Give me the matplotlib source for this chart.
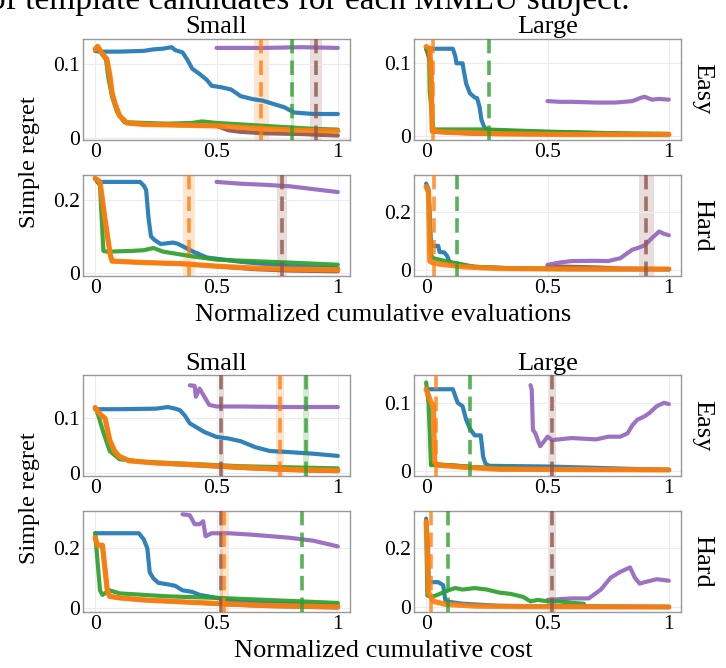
import matplotlib
matplotlib.use('Agg')
import matplotlib.pyplot as plt

plt.rcParams['font.family'] = ['Liberation Serif', 'DejaVu Serif']

# colours of the five methods
COLORS = {'blue': '#1f77b4', 'orange': '#ff7f0e', 'green': '#2ca02c',
          'brown': '#8c564b', 'purple': '#9467bd'}

# ---- evaluations, small, easy
ev_se_blue = [(0, .117), (0.02, .116), (0.1, .116), (0.2, .117), (0.24, .119), (0.28, .12), (0.315, .122),
              (0.33, .118), (0.36, .115), (0.38, .105), (0.4, .093), (0.43, .086), (0.46, .078), (0.48, .07),
              (0.52, .068), (0.56, .065), (0.6, .056), (0.65, .052), (0.69, .05), (0.73, .046), (0.78, .041),
              (0.82, .034), (0.9, .032), (1.0, .032)]
ev_se_orange = [(0, .119), (0.01, .123), (0.03, .113), (0.048, .106), (0.06, .085), (0.07, .06), (0.082, .046),
                (0.1, .03), (0.13, .02), (0.2, .018), (0.35, .017), (0.5, .016), (0.6, .014), (0.7, .012),
                (0.85, .01), (1.0, .009)]
ev_se_green = [(0, .119), (0.01, .122), (0.03, .112), (0.045, .105), (0.055, .08), (0.07, .055), (0.09, .035),
               (0.12, .021), (0.2, .02), (0.3, .019), (0.4, .02), (0.44, .022), (0.5, .02), (0.6, .018),
               (0.7, .016), (0.8, .014), (0.9, .012), (1.0, .011)]
ev_se_brown = [(0, .119), (0.01, .123), (0.03, .113), (0.048, .106), (0.06, .085), (0.07, .06), (0.082, .046),
               (0.1, .03), (0.13, .02), (0.2, .018), (0.35, .017), (0.5, .016), (0.55, .01), (0.6, .008),
               (0.7, .006), (0.85, .005), (1.0, .003)]
ev_se_purple = [(0.5, .121), (0.7, .121), (0.85, .122), (1.0, .121)]
ev_se_vlines = [('orange', 0.685, 0.654, 0.715), ('green', 0.812, 0.806, 0.818), ('brown', 0.911, 0.886, 0.936)]

# ---- evaluations, large, easy
ev_le_blue = [(0, .12), (0.11, .12), (0.12, .11), (0.125, .1), (0.15, .1), (0.155, .09), (0.165, .072),
              (0.18, .059), (0.2, .053), (0.21, .052), (0.22, .04), (0.228, .022), (0.241, .011), (0.262, .008),
              (0.4, .006), (0.6, .005), (0.8, .003), (1.0, .002)]
ev_le_orange = [(0, .123), (0.015, .12), (0.02, .09), (0.025, .008), (0.05, .006), (0.1, .005), (0.3, .003),
                (0.6, .002), (1.0, .002)]
ev_le_green = [(0, .12), (0.012, .115), (0.015, .06), (0.03, .009), (0.1, .009), (0.25, .009), (0.5, .006),
               (0.75, .004), (1.0, .003)]
ev_le_brown = [(0, .12), (0.02, .1), (0.025, .006), (0.2, .003), (1.0, .002)]
ev_le_purple = [(0.5, .048), (0.55, .047), (0.6, .047), (0.7, .046), (0.78, .046), (0.85, .048), (0.88, .052),
                (0.9, .054), (0.93, .05), (0.96, .051), (1.0, .05)]
ev_le_vlines = [('orange', 0.028, None, None), ('green', 0.258, None, None)]

# ---- evaluations, small, hard
ev_sh_blue = [(0, .26), (0.01, .25), (0.185, .25), (0.2, .24), (0.21, .228), (0.22, .15), (0.23, .1),
              (0.245, .09), (0.27, .079), (0.32, .083), (0.34, .08), (0.363, .072), (0.404, .058), (0.46, .042),
              (0.6, .03), (0.8, .018), (1.0, .012)]
ev_sh_orange = [(0, .26), (0.02, .25), (0.04, .15), (0.062, .05), (0.07, .032), (0.2, .028), (0.35, .025),
                (0.5, .018), (0.65, .013), (0.8, .01), (1.0, .008)]
ev_sh_green = [(0, .26), (0.02, .24), (0.034, .06), (0.05, .058), (0.15, .06), (0.2, .062), (0.24, .068),
               (0.28, .058), (0.4, .045), (0.5, .036), (0.65, .032), (0.8, .028), (1.0, .022)]
ev_sh_brown = [(0, .26), (0.02, .25), (0.04, .15), (0.062, .05), (0.07, .032), (0.2, .028), (0.35, .025),
               (0.5, .018), (0.65, .01), (0.8, .006), (1.0, .004)]
ev_sh_purple = [(0.5, .25), (0.6, .245), (0.7, .242), (0.8, .238), (0.9, .23), (1.0, .222)]
ev_sh_vlines = [('orange', 0.386, 0.36, 0.41), ('brown', 0.77, 0.75, 0.79)]

# ---- evaluations, large, hard
ev_lh_blue = [(0, .3), (0.01, .28), (0.02, .083), (0.05, .083), (0.055, .062), (0.075, .06), (0.086, .048),
              (0.1, .02), (0.2, .01), (0.4, .003), (1.0, .001)]
ev_lh_orange = [(0, .29), (0.01, .27), (0.015, .03), (0.025, .025), (0.05, .02), (0.15, .01), (0.3, .004),
                (0.6, .002), (1.0, .002)]
ev_lh_green = [(0, .29), (0.01, .27), (0.02, .05), (0.03, .04), (0.08, .03), (0.14, .02), (0.2, .01),
               (0.35, .005), (0.6, .003)]
ev_lh_brown = [(0.5, .012), (0.6, .01), (0.7, .008), (0.8, .004), (0.9, .003), (1.0, .002)]
ev_lh_purple = [(0.5, .017), (0.55, .025), (0.6, .03), (0.7, .031), (0.75, .03), (0.8, .04), (0.85, .07),
                (0.87, .075), (0.9, .085), (0.93, .11), (0.96, .133), (0.98, .125), (1.0, .12)]
ev_lh_vlines = [('orange', 0.034, None, None), ('green', 0.128, None, None), ('brown', 0.907, 0.876, 0.94)]

# ---- cost, small, easy
co_se_blue = [(0, .117), (0.1, .117), (0.25, .118), (0.3, .121), (0.33, .118), (0.35, .115), (0.37, .105),
              (0.39, .091), (0.45, .075), (0.5, .066), (0.55, .063), (0.6, .058), (0.66, .047), (0.72, .04),
              (0.8, .038), (0.9, .035), (1.0, .031)]
co_se_orange = [(0, .12), (0.02, .108), (0.041, .1), (0.06, .06), (0.08, .04), (0.1, .03), (0.14, .022),
                (0.25, .018), (0.4, .015), (0.6, .01), (0.8, .006), (1.0, .004)]
co_se_green = [(0, .12), (0.01, .11), (0.03, .08), (0.06, .04), (0.1, .025), (0.2, .02), (0.4, .016),
               (0.6, .012), (0.8, .01), (1.0, .008)]
co_se_brown = [(0, .12), (0.02, .108), (0.041, .1), (0.06, .06), (0.08, .04), (0.1, .03), (0.14, .022),
               (0.25, .018), (0.4, .014), (0.6, .009), (0.8, .005), (1.0, .003)]
co_se_purple = [(0.39, .161), (0.41, .16), (0.415, .14), (0.43, .155), (0.45, .14), (0.47, .125), (0.5, .122),
                (0.6, .122), (0.8, .121), (1.0, .121)]
co_se_vlines = [('brown', 0.52, 0.51, 0.53), ('orange', 0.763, 0.745, 0.78), ('green', 0.867, 0.855, 0.88)]

# ---- cost, large, easy
co_le_blue = [(0, .12), (0.11, .12), (0.12, .11), (0.13, .1), (0.15, .095), (0.165, .075), (0.18, .062),
              (0.2, .052), (0.225, .052), (0.235, .02), (0.245, .01), (0.26, .007), (0.5, .006), (0.7, .004),
              (1.0, .001)]
co_le_orange = [(0, .12), (0.021, .1), (0.03, .095), (0.035, .012), (0.05, .008), (0.15, .005), (0.3, .002),
                (1.0, .001)]
co_le_green = [(0, .13), (0.01, .1), (0.02, .008), (0.1, .008), (0.2, .005), (0.4, .003)]
co_le_brown = [(0.02, .01), (0.3, .002), (1.0, .001)]
co_le_purple = [(0.43, .126), (0.435, .12), (0.44, .06), (0.45, .055), (0.46, .045), (0.47, .036), (0.49, .045),
                (0.5, .05), (0.52, .045), (0.6, .048), (0.7, .046), (0.75, .05), (0.8, .05), (0.83, .055),
                (0.85, .067), (0.87, .075), (0.9, .08), (0.92, .085), (0.95, .095), (0.98, .1), (1.0, .098)]
co_le_vlines = [('orange', 0.041, None, None), ('green', 0.179, None, None), ('brown', 0.517, 0.50, 0.535)]

# ---- cost, small, hard
co_sh_blue = [(0, .25), (0.18, .25), (0.2, .23), (0.215, .2), (0.225, .12), (0.24, .1), (0.26, .085),
              (0.3, .08), (0.33, .075), (0.36, .06), (0.4, .055), (0.43, .045), (0.5, .035), (0.6, .02),
              (0.8, .015), (1.0, .01)]
co_sh_orange = [(0, .235), (0.01, .21), (0.03, .21), (0.05, .06), (0.06, .04), (0.1, .035), (0.2, .028),
                (0.4, .02), (0.55, .015), (0.7, .01), (1.0, .005)]
co_sh_green = [(0, .25), (0.02, .06), (0.03, .045), (0.06, .06), (0.1, .05), (0.2, .045), (0.3, .04),
               (0.5, .035), (0.8, .025), (1.0, .018)]
co_sh_brown = [(0, .235), (0.01, .21), (0.03, .21), (0.05, .06), (0.06, .04), (0.1, .035), (0.2, .028),
               (0.4, .02), (0.55, .013), (0.7, .008), (1.0, .003)]
co_sh_purple = [(0.36, .313), (0.39, .31), (0.41, .28), (0.43, .28), (0.445, .29), (0.455, .24), (0.48, .25),
                (0.55, .25), (0.65, .245), (0.8, .235), (0.9, .225), (1.0, .206)]
co_sh_vlines = [('brown', 0.52, 0.515, 0.525), ('orange', 0.53, 0.51, 0.55), ('green', 0.853, None, None)]

# ---- cost, large, hard
co_lh_blue = [(0, .3), (0.008, .2), (0.01, .085), (0.05, .085), (0.07, .075), (0.08, .02), (0.15, .012),
              (0.3, .005), (0.6, .002), (1.0, .001)]
co_lh_orange = [(0, .29), (0.005, .2), (0.01, .05), (0.03, .02), (0.08, .01), (0.2, .004), (0.4, .002),
                (1.0, .001)]
co_lh_green = [(0, .29), (0.005, .04), (0.02, .035), (0.04, .04), (0.07, .05), (0.1, .06), (0.12, .065),
               (0.15, .06), (0.2, .065), (0.25, .06), (0.3, .05), (0.35, .045), (0.4, .035), (0.43, .02),
               (0.46, .025), (0.5, .02), (0.55, .02), (0.6, .015), (0.65, .012)]
co_lh_brown = [(0.5, .005), (0.8, .002), (1.0, .001)]
co_lh_purple = [(0.5, .025), (0.6, .03), (0.67, .03), (0.72, .06), (0.76, .1), (0.8, .12), (0.84, .135),
                (0.86, .1), (0.88, .08), (0.9, .085), (0.95, .095), (1.0, .09)]
co_lh_vlines = [('orange', 0.021, None, None), ('green', 0.09, None, None), ('brown', 0.517, 0.50, 0.535)]

xticks = [0, 0.5, 1]
xtick_labels = ['0', '0.5', '1']
easy_ticks = [0, 0.1]
easy_labels = ['0', '0.1']
hard_ticks = [0, 0.2]
hard_labels = ['0', '0.2']

# (series, vlines, ylim, yticks, yticklabels, axes box in pixels left, top)
panels = [
    (dict(brown=ev_se_brown, purple=ev_se_purple, blue=ev_se_blue, green=ev_se_green, orange=ev_se_orange),
     ev_se_vlines, (-0.003, 0.133), easy_ticks, easy_labels, 83, 39),
    (dict(brown=ev_le_brown, purple=ev_le_purple, blue=ev_le_blue, green=ev_le_green, orange=ev_le_orange),
     ev_le_vlines, (-0.0055, 0.1334), easy_ticks, easy_labels, 414, 39),
    (dict(brown=ev_sh_brown, purple=ev_sh_purple, blue=ev_sh_blue, green=ev_sh_green, orange=ev_sh_orange),
     ev_sh_vlines, (-0.009, 0.269), hard_ticks, hard_labels, 83, 175),
    (dict(brown=ev_lh_brown, purple=ev_lh_purple, blue=ev_lh_blue, green=ev_lh_green, orange=ev_lh_orange),
     ev_lh_vlines, (-0.022, 0.33), hard_ticks, hard_labels, 414, 175),
    (dict(brown=co_se_brown, purple=co_se_purple, blue=co_se_blue, green=co_se_green, orange=co_se_orange),
     co_se_vlines, (-0.006, 0.18), easy_ticks, easy_labels, 83, 375),
    (dict(brown=co_le_brown, purple=co_le_purple, blue=co_le_blue, green=co_le_green, orange=co_le_orange),
     co_le_vlines, (-0.008, 0.141), easy_ticks, easy_labels, 414, 375),
    (dict(brown=co_sh_brown, purple=co_sh_purple, blue=co_sh_blue, green=co_sh_green, orange=co_sh_orange),
     co_sh_vlines, (-0.012, 0.324), hard_ticks, hard_labels, 83, 511),
    (dict(brown=co_lh_brown, purple=co_lh_purple, blue=co_lh_blue, green=co_lh_green, orange=co_lh_orange),
     co_lh_vlines, (-0.016, 0.326), hard_ticks, hard_labels, 414, 511),
]

W, H = 726, 668
fig = plt.figure(figsize=(W / 100, H / 100), dpi=100)

for series, vlines, ylim, yt, ytl, left, top in panels:
    ax = fig.add_axes([left / W, 1 - (top + 101) / H, 267 / W, 101 / H])
    for key, pts in series.items():
        xs = [p[0] for p in pts]
        ys = [p[1] for p in pts]
        lw = 3.8 if key == 'orange' else 3.0
        ax.plot(xs, ys, color=COLORS[key], lw=lw, alpha=0.92, solid_capstyle='round', zorder=3)
    for key, xc, lo, hi in vlines:
        if lo is not None:
            ax.axvspan(lo, hi, color=COLORS[key], alpha=0.2, lw=0, zorder=1)
        ax.axvline(xc, color=COLORS[key], lw=2.6, ls=(0, (4, 2)), alpha=0.8, zorder=4)
    ax.set_xlim(-0.05, 1.05)
    ax.set_ylim(*ylim)
    ax.set_xticks(xticks)
    ax.set_xticklabels(xtick_labels)
    ax.set_yticks(yt)
    ax.set_yticklabels(ytl)
    ax.tick_params(length=0, labelsize=15.5, pad=2)
    ax.grid(True, color='#ececec', lw=0.8, zorder=0)
    for s in ax.spines.values():
        s.set_color('#999999')
        s.set_linewidth(1.0)

# caption line from the page above, cut by the top edge as in the source
fig.text(630 / W, 1 - 8.5 / H, 'of template candidates for each MMLU subject.', ha='right', va='baseline',
         fontsize=24)

for y0 in (33, 370):
    fig.text(216.5 / W, 1 - y0 / H, 'Small', ha='center', va='baseline', fontsize=19)
    fig.text(547.5 / W, 1 - y0 / H, 'Large', ha='center', va='baseline', fontsize=19)

for yc, lab in ((89, 'Easy'), (225.5, 'Hard'), (425.5, 'Easy'), (561.5, 'Hard')):
    fig.text(702 / W, 1 - yc / H, lab, ha='center', va='center', rotation=-90, fontsize=19)

fig.text(30 / W, 1 - 162 / H, 'Simple regret', ha='center', va='center', rotation=90, fontsize=17.5)
fig.text(30 / W, 1 - 498 / H, 'Simple regret', ha='center', va='center', rotation=90, fontsize=17.5)
fig.text(383 / W, 1 - 321 / H, 'Normalized cumulative evaluations', ha='center', va='baseline', fontsize=19)
fig.text(383 / W, 1 - 657 / H, 'Normalized cumulative cost', ha='center', va='baseline', fontsize=19)

fig.savefig('out.png', dpi=100)
